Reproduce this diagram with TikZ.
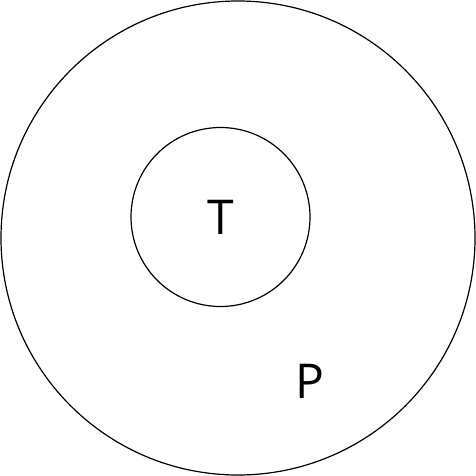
\documentclass[tikz,border=0pt]{standalone}
\usepackage{fontspec}
\setmainfont{Open Sans}
\usepackage{tikz}
\usetikzlibrary{positioning}

\begin{document}
\begin{tikzpicture}[x=1pt, y=-1pt,
  ring/.style={draw=black, line width=1.2pt},
  letter/.style={font=\fontsize{48}{48}\selectfont, inner sep=0pt, anchor=center},
]
  % Bounding box
  \useasboundingbox (0,0) rectangle (476,476);

  % Circles
  \node[ring, circle, minimum size=474pt, inner sep=0pt] (outer) at (238,238) {};
  \node[ring, circle, minimum size=179pt, inner sep=0pt] (inner) at (220.5,217) {};

  % Labels
  \node[letter] (tlabel) at (inner.center) {T};
  \node[letter] (plabel) at (310,381.5) {P};
\end{tikzpicture}
\end{document}
